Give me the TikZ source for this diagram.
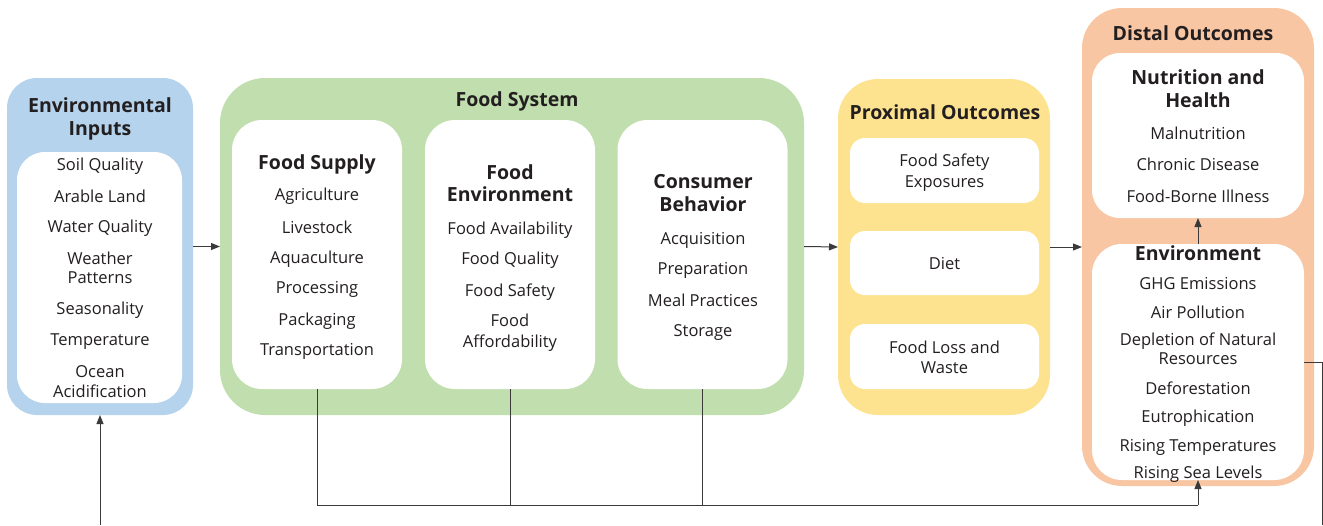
\documentclass[tikz,border=0pt]{standalone}
\usepackage{fontspec}
\setmainfont{Open Sans}
\usetikzlibrary{arrows.meta}
\definecolor{cblue}{HTML}{B5D3EC}
\definecolor{cgreen}{HTML}{C1DFAE}
\definecolor{cyellow}{HTML}{FDE38F}
\definecolor{cpeach}{HTML}{F8C6A3}
\definecolor{ink}{HTML}{231F20}
\definecolor{wire}{HTML}{3A3A3A}
\tikzset{
 box/.style={rectangle, inner sep=0pt, outer sep=0pt},
 panel/.style={box, fill=white},
 item/.style={anchor=base, inner sep=0pt, text=ink, yshift=-6.5pt, font=\fontsize{16.5}{20}\selectfont},
 head/.style={anchor=base, inner sep=0pt, text=ink, yshift=-7.5pt, font=\fontsize{19.5}{23}\selectfont\bfseries},
 wireline/.style={draw=wire, line width=1pt},
 arr/.style={wireline, -{Triangle[length=9pt,width=7pt]}},
}
\begin{document}
\begin{tikzpicture}[x=1pt,y=-1pt]
\useasboundingbox (0,0) rectangle (1323,525);
% ---------- boxes
\node[box, fill=cblue, rounded corners=30pt, minimum width=186pt, minimum height=337pt] (envin) at (100,246.5) {};
\node[panel, rounded corners=28pt, minimum width=165pt, minimum height=251pt] (envinp) at (99.5,277.5) {};
\node[box, fill=cgreen, rounded corners=45pt, minimum width=584pt, minimum height=337pt] (fs) at (512,246.5) {};
\node[panel, rounded corners=30pt, minimum width=170pt, minimum height=269pt] (supply) at (317,254.5) {};
\node[panel, rounded corners=30pt, minimum width=170pt, minimum height=269pt] (fenv) at (510,254.5) {};
\node[panel, rounded corners=30pt, minimum width=170pt, minimum height=269pt] (cons) at (702.5,254.5) {};
\node[box, fill=cyellow, rounded corners=40pt, minimum width=212pt, minimum height=336pt] (prox) at (944,247) {};
\node[panel, rounded corners=15pt, minimum width=189pt, minimum height=65pt] (fse) at (944.5,170.5) {};
\node[panel, rounded corners=15pt, minimum width=189pt, minimum height=64pt] (diet) at (944.5,263) {};
\node[panel, rounded corners=15pt, minimum width=189pt, minimum height=65pt] (loss) at (944.5,356.5) {};
\node[box, fill=cpeach, rounded corners=40pt, minimum width=232pt, minimum height=478pt] (distal) at (1198,247) {};
\node[panel, rounded corners=28pt, minimum width=212pt, minimum height=165pt] (nut) at (1198,135.5) {};
\node[panel, rounded corners=30pt, minimum width=212pt, minimum height=236pt] (envo) at (1198,362) {};
% ---------- Environmental Inputs
\node[head] (h1a) at (100,105) {Environmental};
\node[head] (h1b) at (100,128) {Inputs};
\foreach \y/\t [count=\i] in {164/Soil Quality,196/Arable Land,226/Water Quality,258/Weather,277/Patterns,308/Seasonality,339/Temperature,371/Ocean,391/Acidification}
  \node[item] (ei\i) at (100,\y) {\t};
% ---------- Food System
\node[head] (h2) at (517,99) {Food System};
\node[head] (h3) at (317,162) {Food Supply};
\foreach \y/\t [count=\i] in {194/Agriculture,227/Livestock,257/Aquaculture,287/Processing,319/Packaging,349/Transportation}
  \node[item] (fsu\i) at (317,\y) {\t};
\node[head] (h4a) at (510,172) {Food};
\node[head] (h4b) at (510,194) {Environment};
\foreach \y/\t [count=\i] in {228/Food Availability,258/Food Quality,290/Food Safety,320/Food,341/Affordability}
  \node[item] (fen\i) at (510,\y) {\t};
\node[head] (h5a) at (703,181) {Consumer};
\node[head] (h5b) at (703,204) {Behavior};
\foreach \y/\t [count=\i] in {238/Acquisition,268/Preparation,300/Meal Practices,330/Storage}
  \node[item] (cb\i) at (703,\y) {\t};
% ---------- Proximal Outcomes
\node[head] (h6) at (945,112) {Proximal Outcomes};
\node[item] (px1) at (944.5,160) {Food Safety};
\node[item] (px2) at (944.5,181) {Exposures};
\node[item] (px3) at (944.5,263) {Diet};
\node[item] (px4) at (944.5,347) {Food Loss and};
\node[item] (px5) at (944.5,367) {Waste};
% ---------- Distal Outcomes
\node[head] (h7) at (1193,33) {Distal Outcomes};
\node[head] (h8a) at (1198,77) {Nutrition and};
\node[head] (h8b) at (1198,100) {Health};
\foreach \y/\t [count=\i] in {133/Malnutrition,164/Chronic Disease,196/Food-Borne Illness}
  \node[item] (nh\i) at (1198,\y) {\t};
\node[head] (h9) at (1198,253) {Environment};
\foreach \y/\t [count=\i] in {283/GHG Emissions,312/Air Pollution,339/Depletion of Natural,358/Resources,388/Deforestation,416/Eutrophication,445/Rising Temperatures,472/Rising Sea Levels}
  \node[item] (eo\i) at (1198,\y) {\t};
% ---------- connectors
\draw[arr] (envin.east) -- (fs.west);
\draw[arr] (fs.east) -- (prox.west);
\draw[arr] (prox.east) -- (distal.west);
\draw[arr] (envo.north) -- (nut.south);
\coordinate (bus) at (1198,505);
\draw[wireline] (supply.south) |- (bus);
\draw[wireline] (fenv.south) -- (fenv.south |- bus);
\draw[wireline] (cons.south) -- (cons.south |- bus);
\draw[arr] (bus) -- (envo.south);
\coordinate (fbtop) at (1322,362);
\coordinate (fbbot) at (1322,525);
\draw[wireline] (envo.east) -- (fbtop) -- (fbbot);
\coordinate (fbin) at (100,525);
\draw[arr] (fbin) -- (envin.south);
\end{tikzpicture}
\end{document}
